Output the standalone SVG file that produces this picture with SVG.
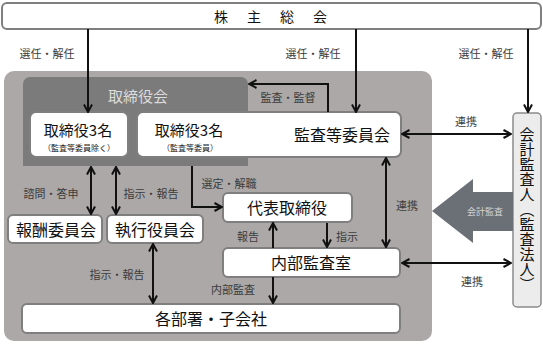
<svg xmlns="http://www.w3.org/2000/svg" width="543" height="344" viewBox="0 0 543 344">
<style>
text{font-family:"Noto Sans CJK JP","Noto Sans",sans-serif;}
.box{fill:#ffffff;stroke:#7f7f7f;stroke-width:2;}
.t{font-size:16px;fill:#111;text-anchor:middle;}
.s{font-size:8px;fill:#222;text-anchor:middle;}
.lbl{font-size:11px;fill:#3c3c3c;text-anchor:middle;}
.ln{fill:none;stroke:#111;stroke-width:2;}
</style>
<defs>
<marker id="ah" viewBox="0 0 10 10" refX="9" refY="5" markerWidth="10" markerHeight="10" markerUnits="userSpaceOnUse" orient="auto-start-reverse">
<path d="M1.5,1 L9,5 L1.5,9" fill="none" stroke="#111" stroke-width="2"/>
</marker>
</defs>
<rect width="543" height="344" fill="#ffffff"/>
<rect x="4" y="71" width="428" height="270" rx="10" fill="#aba8a7"/>
<g id="board">
<path d="M23,84 a7,7 0 0 1 7,-7 H241 a7,7 0 0 1 7,7 V166 H23 Z" fill="#7b7b7b"/>
<text x="138" y="102" style="font-size:15px;fill:#dcdcdc;text-anchor:middle">取締役会</text>
</g>
<g id="shareholders">
<rect class="box" x="2" y="3" width="539" height="26" rx="5" stroke-width="1.5"/>
<text class="t" x="221 254 287 320" y="22" style="font-size:14px">株主総会</text>
</g>
<g id="directors">
<rect class="box" x="30" y="112" width="98" height="45" rx="6"/>
<text class="t" x="78" y="136" style="font-size:15px">取締役3名</text>
<text class="s" x="79" y="151">（監査等委員除く）</text>
</g>
<g id="audit-committee">
<rect class="box" x="137" y="112" width="264" height="45" rx="6"/>
<text class="t" x="189" y="136" style="font-size:15px">取締役3名</text>
<text class="s" x="190" y="151">（監査等委員）</text>
<text class="t" x="342" y="141">監査等委員会</text>
</g>
<g id="remuneration">
<rect class="box" x="8" y="215" width="94" height="28" rx="5"/>
<text class="t" x="56" y="236">報酬委員会</text>
</g>
<g id="executive">
<rect class="box" x="107" y="215" width="96" height="28" rx="5"/>
<text class="t" x="155" y="236">執行役員会</text>
</g>
<g id="representative">
<rect class="box" x="223" y="193" width="129" height="29" rx="5"/>
<text class="t" x="287" y="214">代表取締役</text>
</g>
<g id="internal-audit">
<rect class="box" x="223" y="248" width="177" height="29" rx="5"/>
<text class="t" x="311" y="269">内部監査室</text>
</g>
<g id="departments">
<rect class="box" x="22" y="304" width="378" height="29" rx="5"/>
<text class="t" x="211" y="325">各部署・子会社</text>
</g>
<g id="accounting-auditor">
<rect x="513" y="113" width="28" height="194" rx="4" fill="#ececec" stroke="#8a8a8a" stroke-width="1.5"/>
<text x="527" y="209" style="font-size:15px;fill:#111;writing-mode:vertical-rl;text-anchor:middle">会計監査人（監査法人）</text>
</g>
<g id="audit-arrow">
<polygon points="432,211 473,179 473,192 513,192 513,231 473,231 473,243" fill="#6b6f76"/>
<text x="485" y="215" style="font-size:9px;fill:#d6d6d6;text-anchor:middle">会計監査</text>
</g>
<g id="connectors">
<path class="ln" d="M88,29 V112" marker-end="url(#ah)"/>
<path class="ln" d="M356,29 V112" marker-end="url(#ah)"/>
<path class="ln" d="M528,29 V112" marker-end="url(#ah)"/>
<path class="ln" d="M328,112 V84 H249" marker-end="url(#ah)"/>
<path class="ln" d="M402,134 H511" marker-start="url(#ah)" marker-end="url(#ah)"/>
<path class="ln" d="M386,158 V247" marker-start="url(#ah)" marker-end="url(#ah)"/>
<path class="ln" d="M192,166 V207 H222" marker-end="url(#ah)"/>
<path class="ln" d="M91,167 V214" marker-start="url(#ah)" marker-end="url(#ah)"/>
<path class="ln" d="M116,167 V214" marker-start="url(#ah)" marker-end="url(#ah)"/>
<path class="ln" d="M273,248 V223" marker-end="url(#ah)"/>
<path class="ln" d="M327,223 V247" marker-end="url(#ah)"/>
<path class="ln" d="M153,244 V303" marker-start="url(#ah)" marker-end="url(#ah)"/>
<path class="ln" d="M273,277 V303" marker-end="url(#ah)"/>
<path class="ln" d="M402,263 H511" marker-start="url(#ah)" marker-end="url(#ah)"/>
<text class="lbl" x="47" y="58">選任・解任</text>
<text class="lbl" x="313" y="58">選任・解任</text>
<text class="lbl" x="486" y="58">選任・解任</text>
<text class="lbl" x="288" y="102">監査・監督</text>
<text class="lbl" x="466" y="126">連携</text>
<text class="lbl" x="407" y="210">連携</text>
<text class="lbl" x="472" y="286">連携</text>
<text class="lbl" x="229" y="188">選定・解職</text>
<text class="lbl" x="51" y="198">諮問・答申</text>
<text class="lbl" x="151" y="198">指示・報告</text>
<text class="lbl" x="248" y="241">報告</text>
<text class="lbl" x="347" y="241">指示</text>
<text class="lbl" x="117" y="279">指示・報告</text>
<text class="lbl" x="233" y="294">内部監査</text>
</g>
</svg>
